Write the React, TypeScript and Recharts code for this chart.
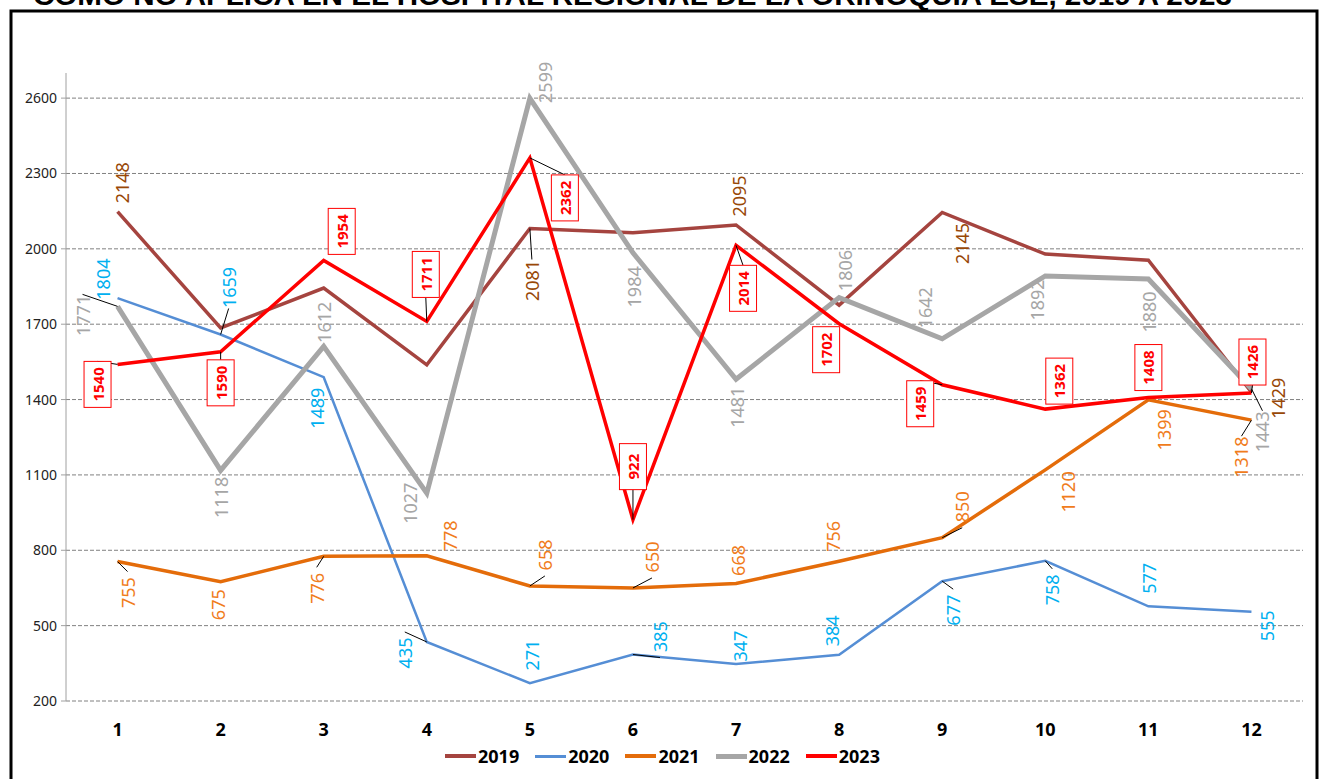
import { CartesianGrid, LabelList, Line, LineChart, XAxis, YAxis } from "recharts";

const titulo = "COMO NO APLICA EN EL HOSPITAL REGIONAL DE LA ORINOQUIA ESE, 2019 A 2023";

const meses = [1, 2, 3, 4, 5, 6, 7, 8, 9, 10, 11, 12];
const y2019 = [2148, 1685, 1844, 1538, 2081, 2064, 2095, 1776, 2145, 1979, 1955, 1429];
const y2020 = [1804, 1659, 1489, 435, 271, 385, 347, 384, 677, 758, 577, 555];
const y2021 = [755, 675, 776, 778, 658, 650, 668, 756, 850, 1120, 1399, 1318];
const y2022 = [1771, 1118, 1612, 1027, 2599, 1984, 1481, 1806, 1642, 1892, 1880, 1443];
const y2023 = [1540, 1590, 1954, 1711, 2362, 922, 2014, 1702, 1459, 1362, 1408, 1426];
// only these 2019 points carry a label in the original
const shown2019 = [true, false, false, false, true, false, true, false, true, false, false, true];

const yTicks = [200, 500, 800, 1100, 1400, 1700, 2000, 2300, 2600];
const bounds = [0.5, 1.5, 2.5, 3.5, 4.5, 5.5, 6.5, 7.5, 8.5, 9.5, 10.5, 11.5, 12.5];

const data = meses.map((mes, i) => ({
  mes,
  y2019: y2019[i],
  y2020: y2020[i],
  y2021: y2021[i],
  y2022: y2022[i],
  y2023: y2023[i],
}));

// label placement relative to the point: [dx, dy, leader line]
type Pos = [number, number, boolean];
const pos2019: Pos[] = [[4, -29, false], [0, 0, false], [0, 0, false], [0, 0, false], [2, 52, true], [0, 0, false], [3, -29, false], [0, 0, false], [20, 31, false], [0, 0, false], [0, 0, false], [27, 6, false]];
const pos2020: Pos[] = [[-15, -19, false], [8, -47, true], [-7, 31, false], [-22, 11, true], [2, -28, false], [27, -18, true], [4, -18, false], [-7, -24, false], [11, 29, true], [7, 29, true], [1, -28, false], [16, 14, false]];
const pos2021: Pos[] = [[10, 31, true], [-3, 23, false], [-7, 32, true], [23, -20, false], [15, -31, true], [19, -31, true], [2, -23, false], [-6, -25, false], [20, -31, true], [23, 22, false], [16, 30, false], [-10, 37, true]];
const pos2022: Pos[] = [[-35, 9, true], [0, 27, false], [0, -24, false], [-17, 10, false], [15, -16, false], [1, 34, false], [1, 28, false], [6, -27, false], [-17, -31, false], [-8, 24, false], [1, 33, false], [11, 43, true]];
const pos2023: Pos[] = [[-20, 20, true], [0, 31, true], [18, -29, false], [-1, -47, true], [35, 40, true], [0, -53, true], [7, 43, true], [-13, 26, false], [-22, 19, true], [14, -28, false], [0, -30, false], [1, -31, true]];

const FONT = "'Noto Sans', 'DejaVu Sans', sans-serif";

function makeLabel(positions: Pos[], color: string, boxed: boolean, shown?: boolean[]) {
  return (props: any) => {
    const { x, y, value, index } = props;
    if (shown && !shown[index]) return null;
    const [dx, dy, leader] = positions[index];
    const cx = x + dx;
    const cy = y + dy;
    const half = boxed ? 23 : 21;
    const edgeY = dy > 0 ? cy - half : cy + half;
    return (
      <g>
        {leader && <line x1={x} y1={y} x2={cx} y2={edgeY} stroke="#000" strokeWidth={1} />}
        {boxed && <rect x={cx - 13.5} y={cy - 23} width={27} height={46} fill="#fff" stroke="#ff0000" strokeWidth={1} />}
        <text
          x={cx}
          y={cy}
          transform={`rotate(-90 ${cx} ${cy})`}
          textAnchor="middle"
          dominantBaseline="central"
          fill={color}
          fontSize={boxed ? 15 : 18}
          fontWeight={boxed ? 700 : 400}
          fontFamily={FONT}
        >
          {value}
        </text>
      </g>
    );
  };
}

const legendItems = [
  { name: "2019", color: "#a5443f", width: 3.5 },
  { name: "2020", color: "#558ed5", width: 3 },
  { name: "2021", color: "#e46c0a", width: 3.5 },
  { name: "2022", color: "#a6a6a6", width: 5 },
  { name: "2023", color: "#ff0000", width: 3.5 },
];

export default function App() {
  return (
    <div style={{ position: "absolute", left: 0, top: 0, width: 1325, height: 779, overflow: "hidden", background: "#fff" }}>
      <svg width={1325} height={779} style={{ position: "absolute", left: 0, top: 0 }}>
        <text
          x={33}
          y={5}
          textLength={1199}
          lengthAdjust="spacingAndGlyphs"
          fontFamily="'Liberation Sans', Arial, sans-serif"
          fontWeight={700}
          fontSize={27}
          fill="#000"
        >
          {titulo}
        </text>
        <rect x={11} y={11} width={1306} height={820} fill="none" stroke="#000" strokeWidth={3} />
      </svg>
      <div style={{ position: "absolute", left: 0, top: 0 }}>
        <LineChart width={1325} height={779} data={data} margin={{ top: 73, right: 22, left: 10, bottom: 48 }}>
          <CartesianGrid
            vertical={false}
            horizontalValues={yTicks}
            stroke="#808080"
            strokeDasharray="4 2"
            yAxisId="v"
            xAxisId="m"
          />
          <XAxis
            xAxisId="b"
            type="number"
            dataKey="mes"
            domain={[0.5, 12.5]}
            ticks={bounds}
            interval={0}
            tick={false}
            height={0}
            tickSize={6}
            stroke="#a0a0a0"
            allowDataOverflow
          />
          <XAxis
            xAxisId="m"
            type="number"
            dataKey="mes"
            domain={[0.5, 12.5]}
            ticks={meses}
            interval={0}
            axisLine={false}
            tickLine={false}
            height={30}
            tickSize={6}
            tickMargin={16}
            tick={{ fill: "#000", fontSize: 18, fontWeight: 700, fontFamily: FONT }}
            allowDataOverflow
          />
          <YAxis
            yAxisId="v"
            domain={[200, 2700]}
            ticks={yTicks}
            interval={0}
            width={56}
            tickSize={5}
            tickMargin={4}
            stroke="#a0a0a0"
            tick={{ fill: "#222", fontSize: 14, fontFamily: FONT }}
            allowDataOverflow
          />
          <Line xAxisId="m" yAxisId="v" type="linear" dataKey="y2019" stroke="#a5443f" strokeWidth={3.5} dot={false} isAnimationActive={false}>
            <LabelList dataKey="y2019" content={makeLabel(pos2019, "#984807", false, shown2019)} />
          </Line>
          <Line xAxisId="m" yAxisId="v" type="linear" dataKey="y2020" stroke="#558ed5" strokeWidth={2.5} dot={false} isAnimationActive={false}>
            <LabelList dataKey="y2020" content={makeLabel(pos2020, "#00b0f0", false)} />
          </Line>
          <Line xAxisId="m" yAxisId="v" type="linear" dataKey="y2021" stroke="#e46c0a" strokeWidth={3.5} dot={false} isAnimationActive={false}>
            <LabelList dataKey="y2021" content={makeLabel(pos2021, "#f07c1c", false)} />
          </Line>
          <Line xAxisId="m" yAxisId="v" type="linear" dataKey="y2022" stroke="#a6a6a6" strokeWidth={5} dot={false} isAnimationActive={false}>
            <LabelList dataKey="y2022" content={makeLabel(pos2022, "#a6a6a6", false)} />
          </Line>
          <Line xAxisId="m" yAxisId="v" type="linear" dataKey="y2023" stroke="#ff0000" strokeWidth={3.5} dot={false} isAnimationActive={false}>
            <LabelList dataKey="y2023" content={makeLabel(pos2023, "#ff0000", true)} />
          </Line>
        </LineChart>
      </div>
      <div
        style={{
          position: "absolute",
          left: 445,
          top: 744,
          display: "flex",
          alignItems: "center",
          fontFamily: FONT,
          fontWeight: 700,
          fontSize: 18,
          color: "#000",
        }}
      >
        {legendItems.map((it) => (
          <div key={it.name} style={{ display: "flex", alignItems: "center", marginRight: 16 }}>
            <div style={{ width: 31, height: it.width, background: it.color, marginRight: 2 }} />
            <span>{it.name}</span>
          </div>
        ))}
      </div>
    </div>
  );
}
